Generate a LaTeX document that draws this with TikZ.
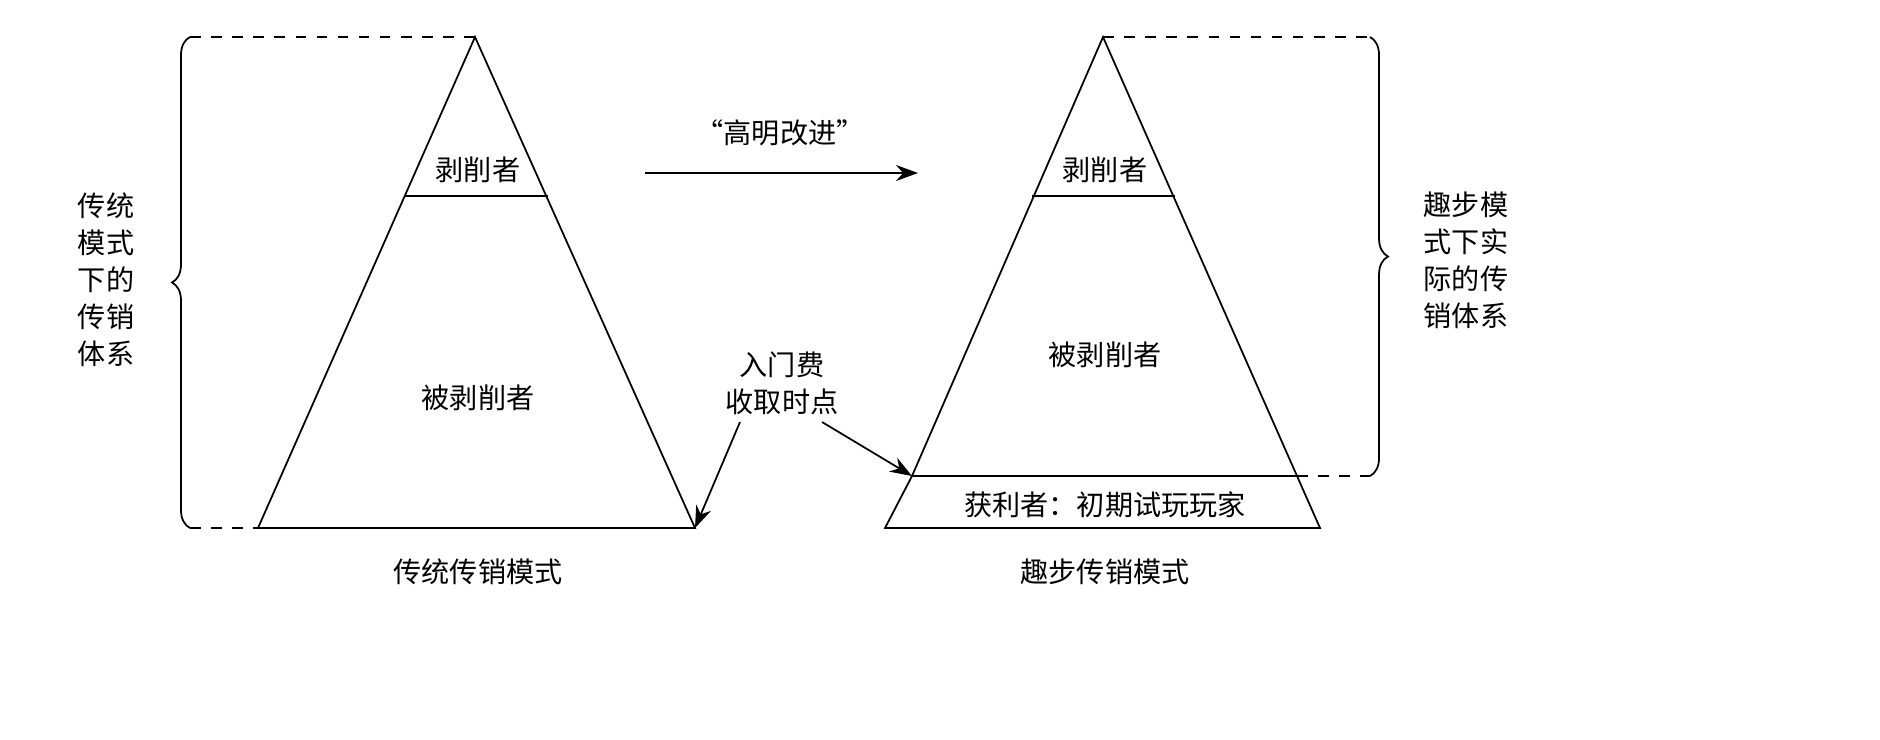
\documentclass[tikz,border=0pt]{standalone}
\usepackage{fontspec}
\setmainfont{Noto Sans CJK SC}
\usetikzlibrary{decorations.pathreplacing,arrows.meta}

\tikzset{
  lbl/.style={font=\fontsize{8pt}{10.5pt}\selectfont, align=center, inner sep=0pt},
  edgeline/.style={line width=0.5pt},
  guide/.style={dashed, line width=0.4pt},
  bracket/.style={decorate, decoration={brace, amplitude=0.18cm}, line width=0.5pt},
  pointer/.style={-{Stealth[length=2.2mm,width=1.6mm]}, line width=0.5pt}
}

\begin{document}
\begin{tikzpicture}[x=0.01cm,y=-0.01cm]
\useasboundingbox (0,0) rectangle (1880,739);
% left pyramid
\coordinate (ltop) at (475,37);
\coordinate (lbotl) at (258,528);
\coordinate (lbotr) at (695,528);
\draw[edgeline] (ltop) -- (lbotr) -- (lbotl) -- cycle;
\draw[edgeline] (405,196) -- (548,196);
\node[lbl] (lexp) at (478,170) {剥削者};
\node[lbl] (lexd) at (478,398) {被剥削者};
\node[lbl] (lname) at (478,572) {传统传销模式};
% left bracket
\coordinate (lbt) at (190,37);
\coordinate (lbb) at (190,528);
\draw[guide] (lbt) -- (ltop);
\draw[guide] (lbb) -- (lbotl);
\draw[bracket] (lbb) -- (lbt);
\node[lbl] (lsys) at (106,280) {传统\\模式\\下的\\传销\\体系};
% right pyramid
\coordinate (rtop) at (1103,37);
\coordinate (rml) at (912,476);
\coordinate (rmr) at (1297,476);
\coordinate (rbl) at (885,528);
\coordinate (rbr) at (1320,528);
\draw[edgeline] (rtop) -- (rmr) -- (rml) -- cycle;
\draw[edgeline] (rml) -- (rbl) -- (rbr) -- (rmr);
\draw[edgeline] (1032,196) -- (1175,196);
\node[lbl] (rexp) at (1105,170) {剥削者};
\node[lbl] (rexd) at (1105,355) {被剥削者};
\node[lbl] (rwin) at (1105,505) {获利者：初期试玩玩家};
\node[lbl] (rname) at (1105,572) {趣步传销模式};
% right bracket
\coordinate (rbt) at (1370,37);
\coordinate (rbb) at (1370,476);
\draw[guide] (rtop) -- (rbt);
\draw[guide] (rmr) -- (rbb);
\draw[bracket] (rbt) -- (rbb);
\node[lbl] (rsys) at (1466,260) {趣步模\\式下实\\际的传\\销体系};
% middle
\coordinate (as) at (645,173);
\coordinate (ae) at (918,173);
\draw[pointer] (as) -- (ae);
\node[lbl] (imp) at (780,133) {“高明改进”};
\node[lbl] (fee) at (782,383) {入门费\\收取时点};
\draw[pointer] (740,422) -- (lbotr);
\draw[pointer] (822,422) -- (rml);
\end{tikzpicture}
\end{document}
